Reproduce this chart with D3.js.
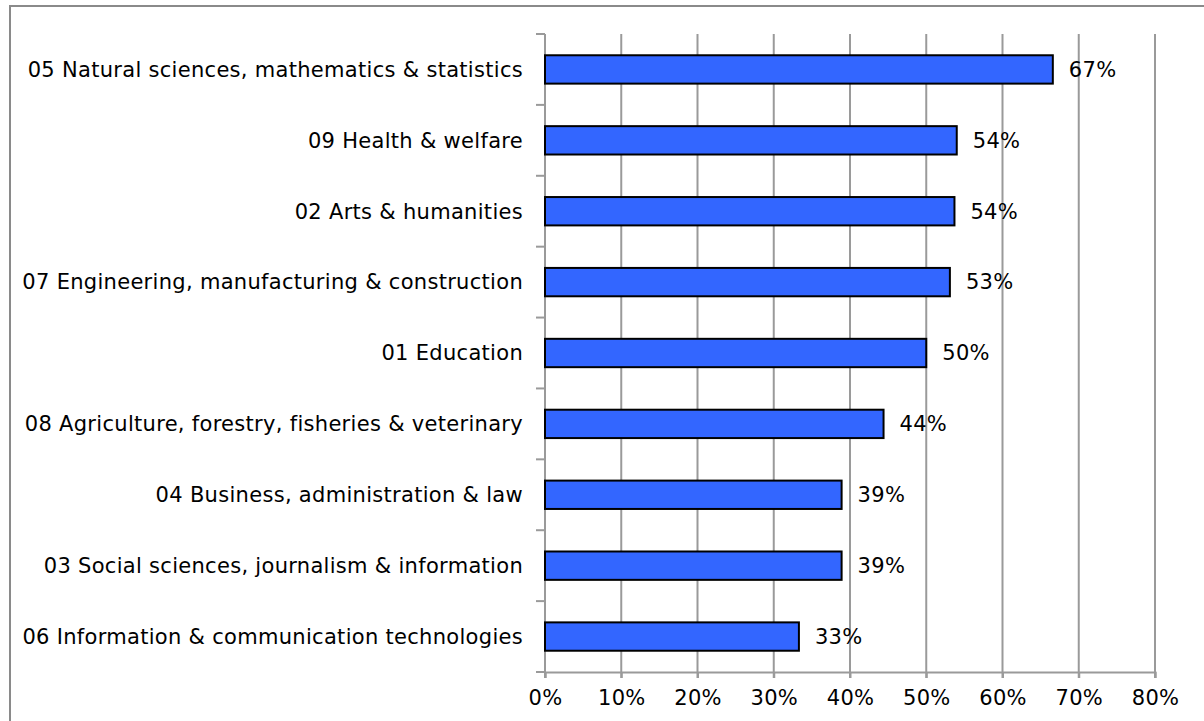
<!DOCTYPE html>
<html>
<head>
<meta charset="utf-8">
<script src="https://cdn.jsdelivr.net/npm/d3@7"></script>
<style>
  html, body { margin: 0; padding: 0; background: #fff; }
  svg { display: block; }
  text { font-family: "DejaVu Sans", Verdana, sans-serif; font-size: 21px; letter-spacing: 0.3px; fill: #000; }
</style>
</head>
<body>
<script>
// Share of graduates by field of education
const categories = [
  "05 Natural sciences, mathematics & statistics",
  "09 Health & welfare",
  "02 Arts & humanities",
  "07 Engineering, manufacturing & construction",
  "01 Education",
  "08 Agriculture, forestry, fisheries & veterinary",
  "04 Business, administration & law",
  "03 Social sciences, journalism & information",
  "06 Information & communication technologies"
];
const values = [0.666, 0.540, 0.537, 0.531, 0.500, 0.444, 0.389, 0.389, 0.333];
const xTicks = [0, 0.1, 0.2, 0.3, 0.4, 0.5, 0.6, 0.7, 0.8];

const W = 1204, H = 721;
const plot = { left: 545, right: 1155, top: 34, bottom: 672 };
const gridColor = "#9a9a9a";

const svg = d3.select("body").append("svg").attr("width", W).attr("height", H);

// chart frame
svg.append("rect")
  .attr("x", 10).attr("y", 6).attr("width", W).attr("height", H)
  .attr("fill", "none").attr("stroke", "#8a8a8a").attr("stroke-width", 2);

const x = d3.scaleLinear().domain([0, 0.8]).range([plot.left, plot.right]);
const y = d3.scaleBand().domain(categories).range([plot.top, plot.bottom])
  .paddingInner(0.6).paddingOuter(0.3);

// vertical gridlines (extend below the axis as tick marks)
svg.append("g").selectAll("line").data(xTicks).join("line")
  .attr("x1", d => x(d)).attr("x2", d => x(d))
  .attr("y1", plot.top).attr("y2", plot.bottom + 6)
  .attr("stroke", gridColor).attr("stroke-width", 2);

// bottom axis
const xAxis = d3.axisBottom(x).tickValues(xTicks).tickFormat(d3.format(".0%"))
  .tickSize(6).tickPadding(12);
const gx = svg.append("g").attr("transform", `translate(0,${plot.bottom})`).call(xAxis);
gx.select(".domain").attr("stroke", gridColor).attr("stroke-width", 2);
gx.selectAll(".tick line").attr("stroke", gridColor).attr("stroke-width", 2);
gx.selectAll(".tick text").attr("dy", "0.71em");
gx.attr("font-size", null).attr("font-family", null);

// left axis: line with ticks at category boundaries
const step = y.step();
const boundaries = d3.range(categories.length + 1).map(i => plot.top + i * step);
svg.append("line")
  .attr("x1", plot.left).attr("x2", plot.left)
  .attr("y1", plot.top).attr("y2", plot.bottom)
  .attr("stroke", gridColor).attr("stroke-width", 2);
svg.append("g").selectAll("line").data(boundaries).join("line")
  .attr("x1", plot.left - 9).attr("x2", plot.left)
  .attr("y1", d => d).attr("y2", d => d)
  .attr("stroke", gridColor).attr("stroke-width", 2);

// category labels
svg.append("g").selectAll("text").data(categories).join("text")
  .attr("x", plot.left - 22)
  .attr("y", d => y(d) + y.bandwidth() / 2)
  .attr("dy", "0.35em")
  .attr("text-anchor", "end")
  .text(d => d);

// bars
svg.append("g").selectAll("rect").data(values).join("rect")
  .attr("x", x(0))
  .attr("y", (d, i) => y(categories[i]))
  .attr("width", d => x(d) - x(0))
  .attr("height", y.bandwidth())
  .attr("fill", "#3366ff")
  .attr("stroke", "#000").attr("stroke-width", 2);

// value labels
const fmt = d3.format(".0%");
svg.append("g").selectAll("text").data(values).join("text")
  .attr("x", d => x(d) + 16)
  .attr("y", (d, i) => y(categories[i]) + y.bandwidth() / 2)
  .attr("dy", "0.35em")
  .text(d => fmt(d));
</script>
</body>
</html>
